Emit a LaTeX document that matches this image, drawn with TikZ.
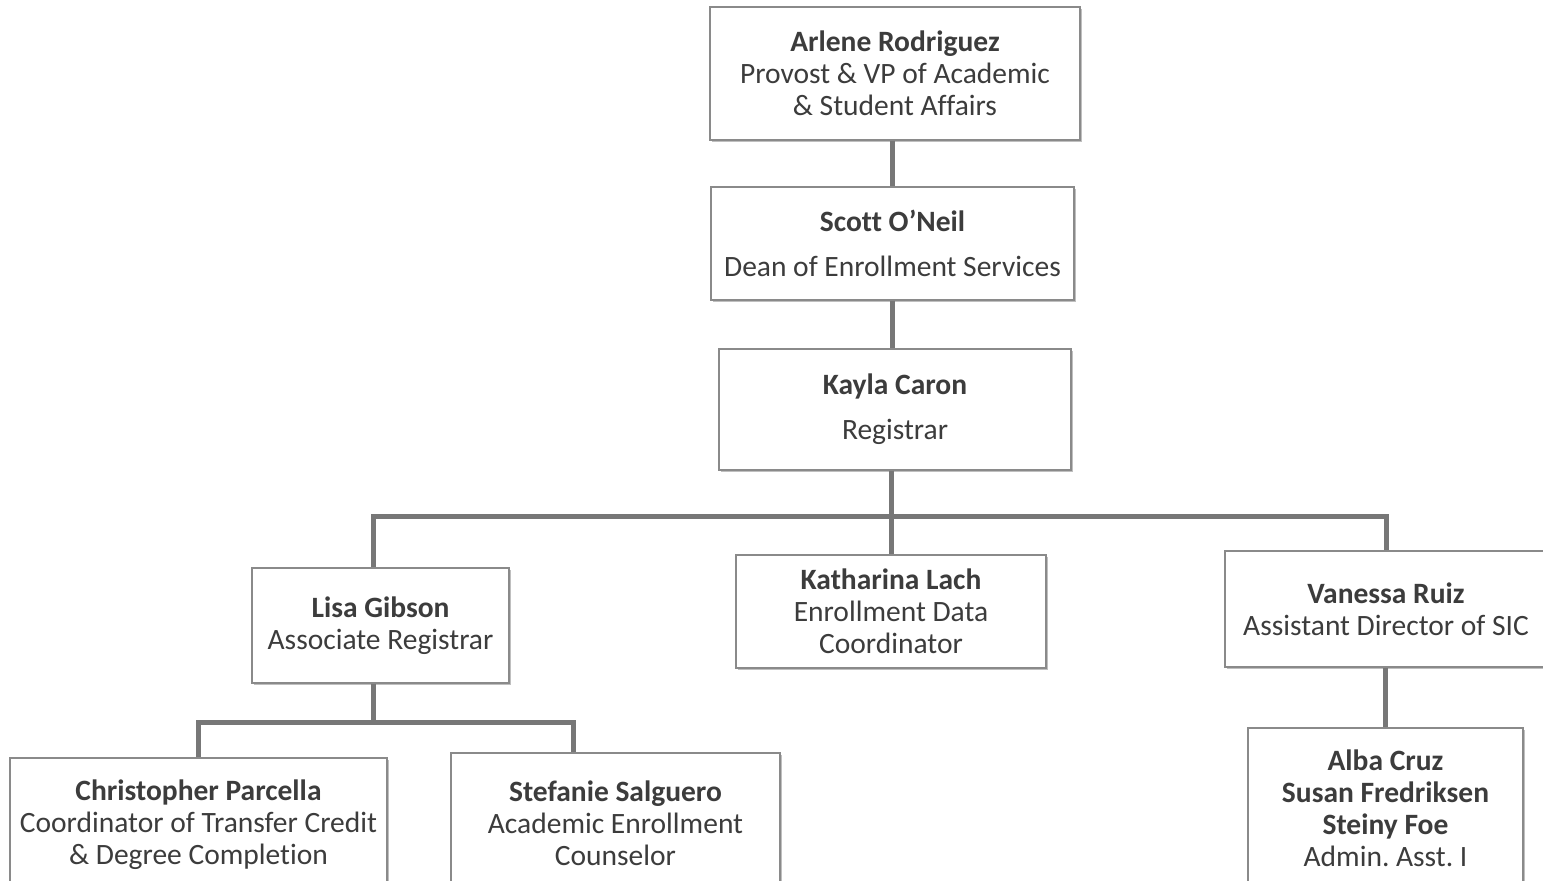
\documentclass[tikz,border=0pt]{standalone}
\usepackage{fontspec}
\setmainfont[Ligatures={NoCommon}]{Carlito}
\usetikzlibrary{shadows}
\definecolor{inkgray}{HTML}{3C3C3C}
\definecolor{boxline}{HTML}{8A8A8A}
\definecolor{linkgray}{HTML}{777777}
\frenchspacing

\begin{document}
\begin{tikzpicture}[x=1pt, y=-1pt,
    person/.style={draw=boxline, line width=1.2pt, fill=white, rectangle, align=center, text=inkgray,
      font=\fontsize{29.5}{32}\selectfont, inner sep=0pt,
      drop shadow={shadow xshift=1.5pt, shadow yshift=-2pt, fill=black, opacity=0.25}},
    link/.style={draw=linkgray, line width=5pt}]
    \useasboundingbox (0,0) rectangle (1543,881);

    % Provost and dean
    \node[person, minimum width=370pt, minimum height=133pt] (arlene) at (895,73.5) {\textbf{Arlene Rodriguez}\\Provost \& VP of Academic\\\& Student Affairs};
    \node[person, minimum width=363pt, minimum height=113pt] (scott) at (892.5,243.5) {\textbf{Scott O’Neil}\\[13pt]Dean of Enrollment Services};

    % Registrar
    \node[person, minimum width=352pt, minimum height=121pt] (kayla) at (895,409.5) {\textbf{Kayla Caron}\\[13pt]Registrar};

    % Second row
    \node[person, minimum width=257pt, minimum height=115pt] (lisa) at (380.5,625.5) {\textbf{Lisa Gibson}\\Associate Registrar};
    \node[person, minimum width=310pt, minimum height=113pt] (katharina) at (891,611.5) {\textbf{Katharina Lach}\\Enrollment Data\\Coordinator};
    \node[person, minimum width=322pt, minimum height=116pt] (vanessa) at (1386,609) {\textbf{Vanessa Ruiz}\\Assistant Director of SIC};

    % Bottom row
    \node[person, minimum width=377pt, minimum height=134pt] (chris) at (198.5,825) {\textbf{Christopher Parcella}\\Coordinator of Transfer Credit\\\& Degree Completion};
    \node[person, minimum width=329pt, minimum height=140pt] (stef) at (615.5,823) {\textbf{Stefanie Salguero}\\Academic Enrollment\\Counselor};
    \node[person, minimum width=275pt, minimum height=160pt] (alba) at (1385.5,808) {\textbf{Alba Cruz}\\\textbf{Susan Fredriksen}\\\textbf{Steiny Foe}\\Admin. Asst. I};

    % Connectors
    \coordinate (kbus) at (891,516);
    \coordinate (lbus) at (373,722);
    \draw[link] (scott.north |- arlene.south) -- (scott.north);
    \draw[link] (scott.south) -- (scott.south |- kayla.north);
    \draw[link] (katharina.north |- kayla.south) -- (katharina.north);
    \draw[link] ([xshift=-7.5pt]lisa.north) |- (kbus) -| (vanessa.north);
    \draw[link] ([xshift=-7.5pt]lisa.south) -- (lbus);
    \draw[link] (chris.north) |- (lbus) -| ([xshift=-42.5pt]stef.north);
    \draw[link] (alba.north |- vanessa.south) -- (alba.north);
\end{tikzpicture}
\end{document}
